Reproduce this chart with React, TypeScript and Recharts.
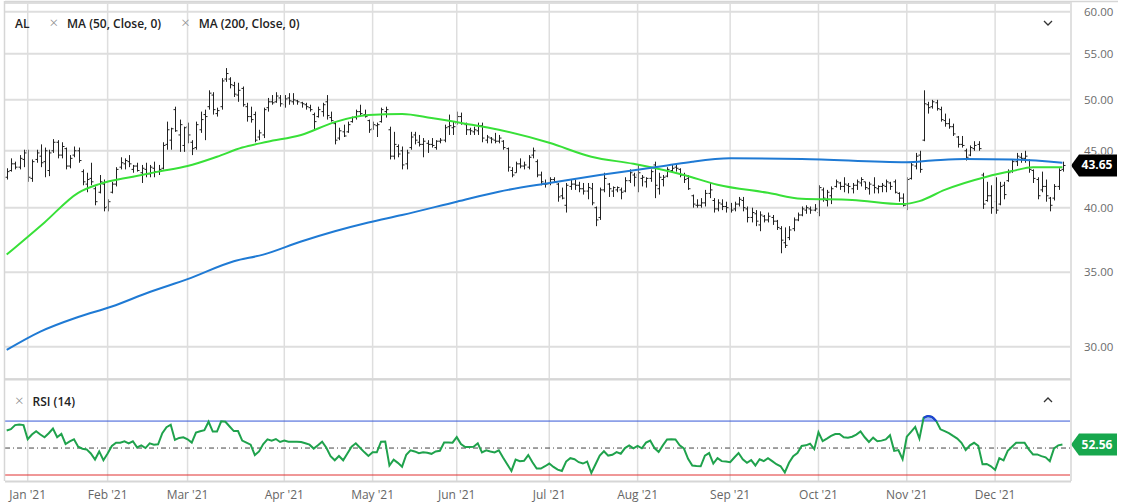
import React from "react";
import {
  ComposedChart,
  Bar,
  Line,
  Area,
  XAxis,
  YAxis,
  CartesianGrid,
  ReferenceLine,
} from "recharts";

// daily bars, 24 Dec 2020 .. 23 Dec 2021 (index = trading day)
const opens = [
  42.6, 43.2, 43.8, 43.5, 44.2, 45.0, 42.5, 44.2, 44.5, 44.0,
  43.2, 45.0, 45.8, 44.6, 45.2, 43.6, 44.6, 45.0, 43.1, 42.0,
  42.5, 41.6, 41.3, 42.0, 40.1, 41.3, 42.0, 43.5, 43.8, 44.0,
  43.3, 43.6, 43.0, 43.3, 42.9, 43.4, 43.1, 43.4, 45.6, 46.0,
  49.0, 46.5, 45.5, 47.3, 45.8, 45.3, 47.0, 48.5, 49.3, 50.5,
  48.6, 49.3, 52.2, 52.2, 51.5, 50.5, 51.2, 49.3, 48.3, 48.5,
  46.3, 46.5, 49.2, 49.8, 49.8, 50.2, 49.5, 50.2, 49.8, 49.9,
  49.7, 49.5, 49.2, 48.5, 48.3, 48.8, 49.8, 48.2, 47.6, 46.2,
  46.8, 46.8, 47.8, 48.2, 48.8, 48.5, 47.9, 47.1, 47.4, 47.8,
  48.8, 47.0, 44.5, 45.4, 45.0, 43.8, 45.3, 46.5, 45.8, 45.6,
  45.7, 45.6, 45.3, 45.9, 46.0, 47.3, 47.2, 47.6, 48.3, 47.5,
  47.0, 46.8, 46.9, 47.4, 46.0, 46.2, 46.0, 45.9, 45.9, 45.2,
  43.2, 43.0, 43.8, 43.6, 43.5, 44.6, 44.0, 42.8, 42.0, 42.0,
  42.4, 42.0, 41.0, 40.2, 41.8, 42.0, 41.9, 41.6, 41.4, 41.6,
  40.0, 39.2, 41.5, 42.0, 41.4, 41.5, 41.5, 41.4, 42.3, 42.8,
  42.8, 42.5, 42.2, 42.5, 43.7, 41.6, 42.4, 42.7, 43.2, 43.5,
  43.3, 42.8, 42.5, 41.0, 40.2, 40.2, 40.4, 41.2, 40.6, 39.9,
  40.3, 40.1, 39.9, 39.9, 40.3, 40.6, 39.9, 39.2, 39.5, 38.6,
  39.3, 39.0, 39.2, 38.9, 38.3, 37.2, 37.6, 38.3, 39.0, 39.4,
  39.8, 39.9, 39.8, 39.6, 41.5, 40.6, 41.0, 41.8, 42.1, 41.8,
  41.9, 41.6, 41.9, 42.1, 42.2, 41.6, 41.9, 41.6, 41.8, 41.8,
  42.1, 42.2, 41.2, 40.8, 40.2, 42.5, 43.6, 44.6, 46.0, 49.5,
  49.3, 49.7, 49.0, 47.9, 47.6, 47.3, 46.3, 45.6, 45.0, 44.6,
  45.2, 45.6, 42.8, 40.6, 41.0, 40.5, 40.3, 41.9, 42.3, 43.1,
  44.0, 44.4, 44.3, 44.1, 43.2, 42.4, 41.5, 41.8, 40.8, 40.8,
  41.8, 43.3,
];

const highs = [
  43.4, 44.3, 44.0, 44.6, 45.1, 45.1, 44.2, 45.1, 45.6, 45.3,
  45.1, 46.1, 46.0, 45.8, 45.3, 44.6, 45.4, 45.3, 43.3, 43.0,
  43.9, 41.8, 42.8, 42.4, 40.7, 42.2, 43.5, 44.4, 44.3, 44.6,
  43.7, 43.9, 43.7, 43.9, 43.7, 44.0, 43.7, 45.8, 47.8, 47.2,
  49.3, 48.0, 47.3, 47.7, 46.0, 47.8, 48.8, 49.0, 51.0, 50.8,
  49.2, 52.3, 53.4, 52.4, 51.9, 51.8, 51.4, 49.7, 49.3, 48.8,
  47.0, 49.2, 50.2, 50.5, 50.8, 50.5, 50.5, 50.7, 50.7, 50.0,
  49.8, 49.7, 49.5, 48.7, 49.3, 49.7, 50.5, 48.8, 47.8, 47.2,
  47.5, 47.8, 48.3, 49.0, 49.5, 49.0, 48.0, 47.8, 47.7, 49.2,
  49.3, 47.3, 46.8, 45.6, 45.4, 45.1, 46.8, 46.8, 46.5, 46.2,
  46.0, 46.2, 46.0, 46.2, 47.5, 48.5, 47.8, 48.8, 48.7, 47.7,
  47.2, 47.3, 47.7, 47.7, 46.5, 46.3, 46.7, 46.5, 46.0, 45.3,
  43.5, 44.0, 44.3, 44.0, 44.6, 45.3, 44.2, 43.1, 42.4, 42.6,
  42.6, 42.1, 41.7, 42.1, 42.4, 42.4, 42.2, 42.1, 42.1, 42.1,
  40.1, 41.7, 43.0, 42.1, 41.8, 41.8, 41.7, 42.6, 43.3, 43.0,
  43.7, 42.8, 42.6, 43.3, 44.0, 43.0, 42.8, 43.5, 43.7, 43.7,
  43.4, 43.0, 42.8, 41.1, 40.7, 40.8, 41.5, 42.1, 40.8, 40.7,
  40.7, 40.5, 40.4, 40.5, 40.9, 40.9, 40.1, 40.0, 39.8, 39.7,
  39.4, 39.6, 39.4, 39.0, 38.5, 38.4, 38.5, 39.2, 39.6, 40.1,
  40.2, 40.1, 40.3, 41.9, 41.7, 41.5, 41.8, 42.4, 42.2, 42.6,
  42.1, 42.1, 42.4, 42.6, 42.2, 42.2, 42.6, 41.9, 42.1, 42.4,
  42.2, 42.4, 41.3, 41.2, 42.6, 43.9, 44.8, 45.0, 51.0, 49.8,
  50.0, 50.0, 49.3, 48.6, 48.1, 47.6, 46.4, 46.4, 45.2, 45.5,
  45.9, 45.9, 43.0, 42.2, 41.9, 42.6, 42.2, 42.2, 43.3, 44.2,
  44.8, 44.8, 45.0, 44.2, 43.3, 42.6, 43.1, 42.4, 40.9, 42.0,
  43.4, 44.0,
];

const lows = [
  42.4, 43.1, 43.3, 43.3, 43.5, 42.2, 42.2, 43.9, 43.5, 42.6,
  42.7, 44.8, 44.3, 44.3, 43.3, 43.4, 44.4, 43.9, 41.9, 41.3,
  41.9, 40.2, 41.2, 39.7, 39.7, 41.2, 41.8, 43.3, 43.3, 43.5,
  43.0, 43.1, 42.1, 42.6, 42.6, 42.6, 42.8, 43.3, 45.1, 45.1,
  46.8, 44.9, 44.9, 45.7, 44.6, 45.1, 46.7, 46.0, 49.0, 48.5,
  48.3, 49.0, 51.9, 51.2, 50.3, 49.8, 49.3, 47.8, 47.7, 45.8,
  46.0, 46.2, 48.8, 49.5, 49.7, 49.3, 49.2, 49.5, 49.5, 49.5,
  49.2, 49.0, 48.8, 47.0, 48.2, 48.3, 48.0, 47.8, 45.6, 46.0,
  46.3, 46.7, 47.7, 48.0, 48.3, 48.2, 46.7, 47.0, 46.3, 47.7,
  48.2, 44.2, 44.2, 44.4, 43.3, 43.3, 45.1, 45.6, 45.4, 44.4,
  44.8, 45.3, 45.1, 45.7, 45.8, 46.5, 46.5, 47.5, 47.5, 46.5,
  46.5, 46.5, 46.5, 45.8, 45.7, 45.7, 45.7, 45.7, 45.1, 43.1,
  42.6, 43.0, 43.4, 43.3, 43.3, 44.3, 42.6, 41.9, 41.7, 41.9,
  42.1, 40.5, 40.7, 39.6, 41.5, 41.5, 41.3, 41.1, 40.7, 40.2,
  38.5, 39.0, 41.3, 40.9, 40.9, 41.3, 40.7, 41.3, 42.1, 41.8,
  41.3, 41.8, 41.7, 42.2, 40.8, 41.1, 41.8, 42.6, 43.0, 43.1,
  42.6, 42.1, 41.5, 40.0, 40.0, 40.0, 40.1, 40.8, 39.6, 39.7,
  39.8, 39.6, 39.6, 39.7, 40.1, 39.7, 38.8, 38.8, 38.5, 38.1,
  38.8, 38.8, 38.6, 38.2, 36.4, 36.8, 37.4, 38.1, 38.9, 39.3,
  39.5, 39.5, 39.7, 39.3, 40.5, 40.1, 40.3, 41.7, 41.5, 41.3,
  41.2, 41.2, 41.5, 41.8, 41.5, 41.1, 41.2, 41.2, 41.3, 41.3,
  41.5, 41.2, 40.5, 40.1, 39.8, 42.4, 43.3, 43.0, 45.9, 48.6,
  49.1, 48.9, 47.8, 47.3, 47.1, 46.4, 45.3, 45.3, 44.1, 44.5,
  45.0, 45.0, 39.9, 40.5, 39.5, 39.5, 40.2, 40.7, 42.2, 43.0,
  43.6, 43.9, 43.9, 43.0, 42.1, 40.7, 41.3, 40.5, 39.7, 40.6,
  41.5, 43.1,
];

const closes = [
  43.1, 43.8, 43.5, 44.3, 44.8, 42.6, 44.0, 44.8, 43.9, 45.0,
  44.8, 45.8, 44.6, 45.4, 43.6, 44.3, 45.0, 44.1, 42.2, 42.4,
  42.2, 40.5, 42.2, 40.0, 40.5, 42.0, 43.3, 43.9, 44.1, 43.8,
  43.6, 43.2, 43.4, 42.9, 43.5, 43.1, 43.3, 45.5, 47.0, 47.1,
  46.9, 47.5, 47.2, 46.5, 45.2, 47.5, 48.0, 48.3, 50.7, 49.0,
  48.9, 52.0, 52.8, 51.6, 50.6, 51.0, 49.5, 48.3, 48.0, 46.0,
  46.7, 49.0, 49.8, 49.7, 50.4, 49.6, 50.1, 49.9, 50.0, 49.8,
  49.6, 49.3, 49.0, 47.8, 49.0, 49.5, 48.4, 47.9, 46.0, 46.9,
  46.4, 47.5, 48.2, 48.8, 48.6, 48.3, 47.0, 47.5, 47.5, 49.0,
  49.0, 44.5, 45.6, 44.7, 43.7, 44.8, 46.3, 46.0, 45.6, 45.9,
  45.6, 45.5, 45.9, 46.0, 47.2, 47.4, 47.3, 48.3, 47.6, 47.0,
  46.9, 47.0, 47.4, 46.2, 46.3, 46.1, 45.9, 46.2, 45.3, 43.5,
  42.8, 43.8, 43.6, 43.7, 44.4, 45.0, 42.8, 42.2, 42.0, 42.4,
  42.2, 40.9, 40.8, 41.9, 42.0, 41.9, 41.6, 41.4, 41.7, 40.4,
  39.0, 41.5, 42.5, 41.6, 41.7, 41.7, 41.3, 42.3, 43.0, 42.6,
  43.0, 42.6, 42.5, 43.1, 41.9, 42.6, 42.6, 43.3, 43.4, 43.4,
  42.8, 42.4, 41.6, 40.3, 40.2, 40.4, 41.2, 41.5, 39.9, 40.4,
  40.1, 40.0, 39.8, 40.3, 40.7, 40.0, 39.2, 39.6, 38.9, 39.4,
  39.0, 39.3, 38.9, 38.4, 37.4, 37.0, 38.2, 39.0, 39.4, 39.9,
  40.0, 39.8, 39.9, 41.7, 40.8, 41.3, 41.6, 42.2, 41.8, 42.0,
  41.8, 41.9, 42.2, 42.4, 41.7, 42.0, 41.7, 41.8, 41.9, 42.2,
  41.8, 41.3, 40.8, 40.2, 42.4, 43.7, 44.5, 43.3, 49.6, 49.2,
  49.8, 49.1, 48.0, 47.6, 47.3, 46.6, 45.6, 45.5, 44.4, 45.3,
  45.5, 45.2, 40.3, 41.0, 40.0, 39.8, 41.8, 41.1, 43.0, 44.0,
  44.5, 44.3, 44.5, 43.3, 42.5, 41.0, 41.8, 41.0, 40.2, 41.8,
  43.2, 43.65,
];

const rsi = [
  63, 64, 67, 67.5, 67, 56.5, 60, 62.5, 60, 58,
  61, 64.5, 58, 60.5, 53, 55, 56.5, 51, 49.5, 49,
  46, 41.5, 47.5, 41, 46, 51.5, 54, 54, 55, 53.5,
  55, 50.5, 52, 50, 53.5, 52.5, 52.8, 61, 65.5, 67.3,
  56, 57.5, 58, 56.5, 54, 61.5, 62.5, 63.3, 69.5, 62.2,
  62.2, 69.8, 69.5, 66, 62.6, 62.6, 55.5, 54, 52.5, 44.8,
  47.5, 53, 56.5, 55.5, 56.7, 54.5, 55.5, 54.7, 54.7, 54.7,
  54.5, 53.5, 52.5, 49.6, 52, 54.7, 50.2, 44, 40.9, 44.1,
  40.9, 46, 51, 53.5, 50.2, 47, 44.1, 46.8, 46.8, 54.7,
  54.9, 37, 41.4, 39, 36.2, 45, 48.3, 47.5, 46.2, 46.8,
  46.5, 45.7, 47.5, 48, 54.1, 54.1, 54, 58.1, 53, 50.7,
  50.7, 51, 53.5, 46.8, 48.3, 47.5, 46.8, 48.3, 43, 38,
  33, 41.4, 40.3, 40.5, 44.8, 39.5, 34.8, 34.8, 36.5, 38.5,
  36, 34, 33, 40, 42.5, 41.7, 39.5, 38.5, 40, 31.5,
  38, 44.4, 47.6, 44.4, 45, 47, 45.8, 50, 51.9, 49.8,
  51.6, 49.8, 54, 55.6, 50, 47.1, 52, 56.4, 56.5, 56.4,
  52, 49.8, 42, 37, 36.7, 36.5, 44.4, 46.3, 38.5, 42.5,
  40.3, 40, 39.5, 43, 46.3, 41.7, 39.1, 41.1, 37.1, 41.7,
  40.3, 42.5, 40.3, 38, 36.5, 31.9, 39.1, 44, 46.3, 51.6,
  52, 53.2, 49.2, 61.7, 55.1, 57, 59, 60.4, 60.4, 58,
  57.7, 58.4, 60, 62.3, 58, 54.5, 57.7, 55.1, 55.5, 56.4,
  59.5, 47.9, 48.5, 41.7, 58.4, 62, 65.7, 57, 72.4, 73.7,
  73, 70, 63.9, 62.5, 61.1, 59, 57, 53.9, 48.5, 52,
  53.9, 51.6, 38, 38.2, 36.5, 33.8, 42.5, 40.9, 47.9, 51,
  53.9, 54, 53.9, 49, 45.3, 45.3, 44, 43.1, 40.3, 49.8,
  52, 52.56,
];

// moving averages at their bends
const ma50Idx = [0, 9, 17, 22, 30, 36, 43, 50, 56, 62, 70, 78, 86, 94, 101, 109, 117, 129, 139, 149, 161, 169, 181, 189, 201, 213, 217, 223, 233, 239, 244, 251];
const ma50Val = [36.3, 38.8, 41.25, 42.0, 42.65, 43.1, 43.6, 44.45, 45.3, 45.85, 46.5, 47.75, 48.45, 48.55, 48.15, 47.6, 47.0, 45.75, 44.45, 43.8, 42.8, 41.95, 41.25, 40.75, 40.65, 40.3, 40.55, 41.5, 42.65, 43.15, 43.5, 43.5];
const ma200Idx = [0, 8, 17, 25, 34, 43, 54, 61, 70, 78, 86, 94, 107, 117, 129, 141, 157, 163, 172, 189, 214, 220, 228, 239, 251];
const ma200Val = [29.8, 30.95, 31.9, 32.6, 33.6, 34.5, 35.8, 36.3, 37.3, 38.1, 38.8, 39.4, 40.5, 41.35, 42.1, 42.8, 43.65, 44.0, 44.3, 44.25, 43.95, 44.1, 44.25, 44.2, 43.9];

const monthTicks = [5, 24, 43, 66, 87, 107, 129, 150, 172, 193, 214, 235];
const monthLabels = ["Jan '21", "Feb '21", "Mar '21", "Apr '21", "May '21", "Jun '21", "Jul '21", "Aug '21", "Sep '21", "Oct '21", "Nov '21", "Dec '21"];
const priceTicks = [30, 35, 40, 45, 50, 55, 60];

const data = closes.map((c, i) => {
  const a = ma50Idx.indexOf(i);
  const b = ma200Idx.indexOf(i);
  return {
    i,
    o: opens[i],
    h: highs[i],
    l: lows[i],
    c,
    rsi: rsi[i],
    ma50: a >= 0 ? ma50Val[a] : null,
    ma200: b >= 0 ? ma200Val[b] : null,
  };
});

const lastClose = closes[closes.length - 1];
const lastRsi = rsi[rsi.length - 1];

const GRID = "#dedede";
const FONT = "'Open Sans', sans-serif";

const OhlcBar = (props: any) => {
  const { x, y, width, height, payload } = props;
  if (x == null || y == null || height == null) return null;
  const top = Math.min(y, y + height);
  const bot = Math.max(y, y + height);
  const cx = Math.round(x + width / 2) + 0.5;
  const span = Math.log(payload.h) - Math.log(payload.l) || 1;
  const yo = top + ((bot - top) * (Math.log(payload.h) - Math.log(payload.o))) / span;
  const yc = top + ((bot - top) * (Math.log(payload.h) - Math.log(payload.c))) / span;
  return (
    <g stroke="#222" strokeWidth={1}>
      <line x1={cx} x2={cx} y1={top} y2={bot} />
      <line x1={cx - 2} x2={cx} y1={yo} y2={yo} />
      <line x1={cx} x2={cx + 2} y1={yc} y2={yc} />
    </g>
  );
};

const ValueTag = (props: any) => {
  const { viewBox, fill, text } = props;
  if (!viewBox) return null;
  const x = viewBox.x + viewBox.width + 1;
  const y = viewBox.y;
  return (
    <g>
      <path d={`M${x},${y} L${x + 8},${y - 11} H${x + 46} V${y + 11} H${x + 8} Z`} fill={fill} />
      <text x={x + 26} y={y + 4} fill="#fff" textAnchor="middle" fontFamily={FONT} fontWeight={700} fontSize={12}>
        {text}
      </text>
    </g>
  );
};

const xAxisProps = {
  type: "number" as const,
  dataKey: "i",
  domain: [-0.4, 252.8],
  allowDataOverflow: true,
  ticks: monthTicks,
  interval: 0 as const,
};

export default function App() {
  return (
    <div style={{ position: "absolute", left: 0, top: 0, width: 1124, height: 504, background: "#fff", fontFamily: FONT, overflow: "hidden" }}>
      <div style={{ position: "absolute", left: 0, top: 0 }}>
        <ComposedChart width={1124} height={380} data={data} margin={{ top: 3, right: 0, bottom: 1, left: 5 }}>
          <CartesianGrid vertical={false} stroke={GRID} strokeWidth={2} />
          {monthTicks.map((t) => (
            <ReferenceLine key={t} x={t} stroke={GRID} strokeWidth={1.5} />
          ))}
          <XAxis {...xAxisProps} hide />
          <YAxis
            orientation="right"
            width={54}
            scale="log"
            domain={[28.06, 61.1]}
            allowDataOverflow
            ticks={priceTicks}
            interval={0}
            axisLine={false}
            tickLine={false}
            tickSize={0}
            tickMargin={14}
            tickFormatter={(v: number) => v.toFixed(2)}
            tick={{ fill: "#6b6b6b", fontSize: 11.5, fontFamily: FONT }}
          />
          <Bar dataKey={(d: any) => [d.l, d.h]} barSize={3} shape={<OhlcBar />} isAnimationActive={false} />
          <Line dataKey="ma50" type="monotone" connectNulls stroke="#38e038" strokeWidth={2} dot={false} isAnimationActive={false} />
          <Line dataKey="ma200" type="monotone" connectNulls stroke="#1f7ad4" strokeWidth={2} dot={false} isAnimationActive={false} />
          <ReferenceLine y={lastClose} stroke="none" label={<ValueTag fill="#000" text={lastClose.toFixed(2)} />} />
        </ComposedChart>
      </div>

      <div style={{ position: "absolute", left: 0, top: 379 }}>
        <ComposedChart width={1124} height={125} data={data} margin={{ top: 0, right: 54, bottom: 0, left: 5 }}>
          {monthTicks.map((t) => (
            <ReferenceLine key={t} x={t} stroke={GRID} strokeWidth={1.5} />
          ))}
          <XAxis
            {...xAxisProps}
            height={23}
            axisLine={false}
            tickLine={false}
            tickSize={0}
            tickMargin={9}
            tickFormatter={(v: number) => monthLabels[monthTicks.indexOf(v)]}
            tick={{ fill: "#666", fontSize: 12, fontFamily: FONT }}
          />
          <YAxis hide domain={[25.56, 101.2]} allowDataOverflow />
          <ReferenceLine y={70} stroke="#3557d6" strokeWidth={1} />
          <ReferenceLine y={50} stroke="#444" strokeWidth={1} strokeDasharray="5 3 1 3" />
          <ReferenceLine y={30} stroke="#e03131" strokeWidth={1} />
          <Area
            dataKey={(d: any) => [70, Math.max(70, d.rsi)]}
            type="monotone"
            stroke="none"
            fill="#7f98ff"
            fillOpacity={0.75}
            isAnimationActive={false}
          />
          <Line dataKey="rsi" type="linear" stroke="#1fa24c" strokeWidth={2} dot={false} isAnimationActive={false} />
          <Line
            dataKey={(d: any) => (d.rsi >= 70 ? d.rsi : null)}
            type="monotone"
            stroke="#1f3fd8"
            strokeWidth={2}
            dot={false}
            isAnimationActive={false}
          />
          <ReferenceLine y={lastRsi} stroke="none" label={<ValueTag fill="#17a74d" text={lastRsi.toFixed(2)} />} />
        </ComposedChart>
      </div>

      {/* pane frames and header */}
      <svg width={1124} height={504} style={{ position: "absolute", left: 0, top: 0, pointerEvents: "none" }}>
        <line x1={5} x2={1118} y1={1.5} y2={1.5} stroke="#d6d6d6" strokeWidth={1.5} />
        <line x1={4.5} x2={4.5} y1={1} y2={481} stroke="#d6d6d6" strokeWidth={1.5} />
        <line x1={1071} x2={1071} y1={1} y2={481} stroke="#d6d6d6" strokeWidth={1.5} />
        <line x1={5} x2={1071} y1={379.5} y2={379.5} stroke="#d6d6d6" strokeWidth={2} />
        <line x1={5} x2={1071} y1={481.5} y2={481.5} stroke="#d6d6d6" strokeWidth={2} />
        <polyline points="1044,21 1048,25 1052,21" fill="none" stroke="#333" strokeWidth={1.3} />
        <polyline points="1044,402 1048,398 1052,402" fill="none" stroke="#333" strokeWidth={1.3} />
      </svg>
      <div style={{ position: "absolute", left: 15, top: 14, fontSize: 12, lineHeight: "16px", color: "#222", fontWeight: 600, whiteSpace: "nowrap" }}>
        AL
        <span style={{ color: "#888", fontWeight: 300, fontSize: 15, marginLeft: 20 }}>×</span>
        <span style={{ marginLeft: 9 }}>MA (50, Close, 0)</span>
        <span style={{ color: "#888", fontWeight: 300, fontSize: 15, marginLeft: 20 }}>×</span>
        <span style={{ marginLeft: 9 }}>MA (200, Close, 0)</span>
      </div>
      <div style={{ position: "absolute", left: 15, top: 392, fontSize: 12, lineHeight: "16px", color: "#222", fontWeight: 600, whiteSpace: "nowrap" }}>
        <span style={{ color: "#888", fontWeight: 300, fontSize: 15 }}>×</span>
        <span style={{ marginLeft: 9 }}>RSI (14)</span>
      </div>
    </div>
  );
}
